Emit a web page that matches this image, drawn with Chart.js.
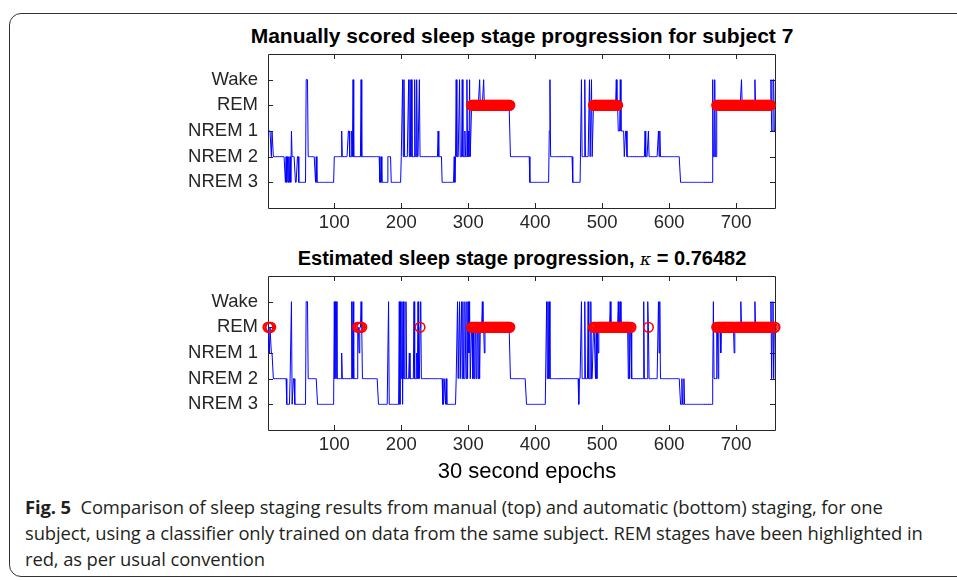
<!DOCTYPE html>
<html>
<head>
<meta charset="utf-8">
<script src="https://cdn.jsdelivr.net/npm/chart.js@4/dist/chart.umd.min.js"></script>
<style>
  html, body { margin: 0; padding: 0; background: #fff; }
  body { width: 957px; height: 580px; position: relative; overflow: hidden; }
  canvas { position: absolute; left: 0; }
  #top { top: 0; }
  #bottom { top: 222px; }
  .ttl { position: absolute; left: 522px; transform: translateX(-50%); white-space: nowrap;
         font-family: "Liberation Sans", Arial, sans-serif; font-weight: bold; font-size: 21px; color: #000; }
  .ttl i { font-family: "DejaVu Serif", "Liberation Serif", serif; font-weight: normal; font-size: 17px; }
  #xlabel { position: absolute; left: 527px; top: 458px; transform: translateX(-50%); white-space: nowrap;
            font-family: "Liberation Sans", Arial, sans-serif; font-size: 22px; color: #000; }
  #frame { position: absolute; left: 9px; top: 13px; width: 1000px; height: 562px;
           border: 1.3px solid #333; border-radius: 12px; }
  #caption { position: absolute; left: 25px; top: 494px; white-space: nowrap;
             font-family: "Open Sans", Lato, sans-serif; font-size: 18.4px; letter-spacing: -0.1px;
             line-height: 26px; color: #231f20; }
</style>
</head>
<body>
<div id="frame"></div>
<div class="ttl" style="top:24px">Manually scored sleep stage progression for subject 7</div>
<div class="ttl" style="top:247px; font-size:20px">Estimated sleep stage progression, <i>κ</i> = 0.76482</div>
<canvas id="top" width="957" height="240"></canvas>
<canvas id="bottom" width="957" height="240"></canvas>
<div id="xlabel">30 second epochs</div>
<div id="caption"><b>Fig. 5</b>&nbsp; Comparison of sleep staging results from manual (top) and automatic (bottom) staging, for one<br>subject, using a classifier only trained on data from the same subject. REM stages have been highlighted in<br>red, as per usual convention</div>
<script>
// stage codes: 1 NREM 3, 2 NREM 2, 3 NREM 1, 4 REM, 5 Wake
const stageNames = { 1: 'NREM 3', 2: 'NREM 2', 3: 'NREM 1', 4: 'REM', 5: 'Wake' };
const stageTicks = [1, 2, 3, 4, 5];
const epochTicks = [100, 200, 300, 400, 500, 600, 700];
const nEpochs = 758;

// manual scoring, as runs: epoch where a run starts and its stage
const manualStart = [1, 6, 7, 9, 27, 28, 29, 30, 31, 32, 33, 34, 35, 36, 37, 42, 45, 47, 58, 61, 72, 73, 74,
  100, 111, 112, 121, 123, 126, 127, 128, 129, 140, 141, 168, 170, 171, 180, 185, 200, 202, 203, 204, 205,
  211, 212, 213, 214, 215, 216, 220, 221, 223, 224, 227, 228, 255, 256, 261, 279, 280, 281, 282, 283, 287,
  288, 291, 292, 295, 296, 298, 299, 300, 301, 302, 303, 305, 317, 318, 323, 324, 363, 392, 421, 422, 423, 456,
  469, 470, 474, 475, 481, 482, 484, 485, 487, 521, 522, 524, 527, 528, 533, 535, 537, 564, 565, 569, 570, 584, 585,
  586, 587, 617, 665, 666, 668, 669, 671, 708, 709, 728, 729, 752, 753, 755, 757];
const manualStage = [3, 2, 3, 2, 1, 2, 1, 2, 1, 2, 1, 2, 1, 3, 2, 1, 2, 1, 5, 2, 1, 2, 1,
  2, 3, 2, 3, 2, 3, 2, 5, 2, 5, 2, 1, 2, 1, 2, 1, 2, 5, 2, 5, 2,
  5, 2, 5, 2, 5, 2, 5, 2, 5, 2, 5, 2, 3, 2, 1, 2, 1, 2, 5, 2, 5,
  2, 5, 2, 3, 2, 5, 2, 3, 2, 5, 2, 4, 5, 4, 5, 4, 2, 1, 3, 5, 2, 1,
  5, 2, 5, 2, 5, 2, 5, 2, 4, 5, 4, 3, 5, 3, 2, 3, 2, 3, 2, 3, 2, 3, 2,
  3, 2, 1, 5, 2, 5, 2, 4, 5, 4, 5, 4, 5, 3, 5, 3];

// automatic (classifier) staging
const autoStart = [1, 3, 4, 6, 9, 29, 34, 36, 37, 39, 41, 58, 61, 75, 100, 101, 102, 104, 111, 112, 126, 127,
  128, 129, 135, 137, 138, 140, 141, 142, 166, 181, 182, 197, 198, 199, 200, 201, 202, 203, 204, 207, 208,
  212, 213, 219, 220, 223, 224, 225, 226, 228, 229, 230, 262, 264, 266, 267, 268, 282, 284, 285, 287, 288,
  290, 291, 292, 293, 295, 296, 297, 298, 299, 300, 301, 302, 303, 305, 307, 308, 309, 310, 312, 313, 315,
  316, 317, 318, 321, 322, 324, 325, 363, 387, 417, 418, 419, 420, 421, 422, 465, 466, 469, 470, 474, 475,
  479, 480, 483, 484, 487, 490, 491, 492, 493, 494, 495, 512, 513, 524, 525, 527, 528, 539, 540, 541, 542, 544,
  562, 563, 568, 569, 570, 584, 585, 586, 587, 617, 619, 620, 622, 623, 665, 666, 667, 671, 673, 674,
  677, 678, 697, 698, 707, 708, 728, 729, 752, 753, 754, 755, 756, 757];
const autoStage = [4, 3, 4, 3, 2, 1, 2, 5, 1, 2, 1, 5, 2, 1, 5, 2, 5, 2, 3, 2, 5, 2,
  5, 2, 4, 3, 4, 5, 4, 2, 1, 5, 1, 5, 1, 5, 2, 5, 1, 5, 2, 5, 2,
  3, 2, 5, 2, 3, 2, 5, 2, 4, 5, 2, 1, 2, 1, 2, 1, 2, 5, 2, 5, 2,
  5, 2, 5, 2, 5, 3, 2, 5, 2, 5, 3, 5, 2, 4, 2, 4, 2, 4, 2, 4, 2,
  4, 2, 4, 5, 4, 3, 4, 2, 1, 5, 2, 5, 2, 5, 2, 1, 2, 5, 2, 5, 2,
  5, 2, 5, 2, 4, 2, 4, 2, 4, 3, 4, 5, 4, 5, 4, 5, 4, 2, 4, 2, 4, 2,
  5, 2, 5, 4, 2, 5, 3, 5, 2, 1, 2, 1, 2, 1, 2, 5, 2, 4, 2, 4,
  3, 4, 3, 4, 5, 4, 5, 4, 5, 2, 4, 5, 2, 4];

function expandRuns(starts, stages) {
  const out = [];
  let k = 0;
  for (let e = 1; e <= nEpochs; e++) {
    while (k + 1 < starts.length && starts[k + 1] <= e) k++;
    out.push({ x: e, y: stages[k] });
  }
  return out;
}

const axisColor = '#262626';
const tickFont = { family: '"Liberation Sans", Arial, sans-serif', size: 18.5 };

const boxPlugin = {
  id: 'matlabBox',
  beforeDatasetsDraw(chart) {
    const { ctx, chartArea: a, scales: { x, y } } = chart;
    ctx.save();
    ctx.strokeStyle = axisColor;
    ctx.lineWidth = 1;
    ctx.beginPath();
    ctx.rect(a.left + 0.5, a.top + 0.5, a.width, a.height);
    x.ticks.forEach(t => {
      const px = Math.round(x.getPixelForValue(t.value)) + 0.5;
      ctx.moveTo(px, a.bottom); ctx.lineTo(px, a.bottom - 5);
      ctx.moveTo(px, a.top); ctx.lineTo(px, a.top + 5);
    });
    y.ticks.forEach(t => {
      const py = Math.round(y.getPixelForValue(t.value)) + 0.5;
      ctx.moveTo(a.left, py); ctx.lineTo(a.left + 5, py);
      ctx.moveTo(a.right, py); ctx.lineTo(a.right - 5, py);
    });
    ctx.stroke();
    ctx.restore();
  }
};

function makeChart(id, starts, stages) {
  const series = expandRuns(starts, stages);
  const rem = series.filter(p => p.y === 4);
  return new Chart(document.getElementById(id), {
    type: 'line',
    data: {
      datasets: [{
        data: rem,
        order: 0,
        showLine: false,
        clip: false,
        pointStyle: 'circle',
        pointRadius: 4.8,
        pointBorderWidth: 1.6,
        borderColor: '#ff0000',
        backgroundColor: 'rgba(0,0,0,0)'
      }, {
        data: series,
        order: 1,
        borderColor: '#0000ff',
        borderWidth: 1,
        pointRadius: 0,
        tension: 0
      }]
    },
    options: {
      responsive: false,
      animation: false,
      devicePixelRatio: 1,
      layout: { padding: { top: 54, right: 182, left: 0, bottom: 0 } },
      plugins: { legend: { display: false }, tooltip: { enabled: false }, title: { display: false } },
      scales: {
        x: {
          type: 'linear', min: 1, max: nEpochs,
          afterBuildTicks: s => { s.ticks = epochTicks.map(v => ({ value: v })); },
          afterFit: s => { s.height = 32; },
          grid: { display: false, drawTicks: false },
          border: { display: false },
          ticks: { font: tickFont, color: axisColor, padding: 4, maxRotation: 0, autoSkip: false }
        },
        y: {
          min: 0, max: 6,
          afterBuildTicks: s => { s.ticks = stageTicks.map(v => ({ value: v })); },
          afterFit: s => { s.width = 268; },
          grid: { display: false, drawTicks: false },
          border: { display: false },
          ticks: { font: tickFont, color: axisColor, padding: 10, autoSkip: false,
                   callback: v => stageNames[v] }
        }
      }
    },
    plugins: [boxPlugin]
  });
}

makeChart('top', manualStart, manualStage);
makeChart('bottom', autoStart, autoStage);
</script>
</body>
</html>
